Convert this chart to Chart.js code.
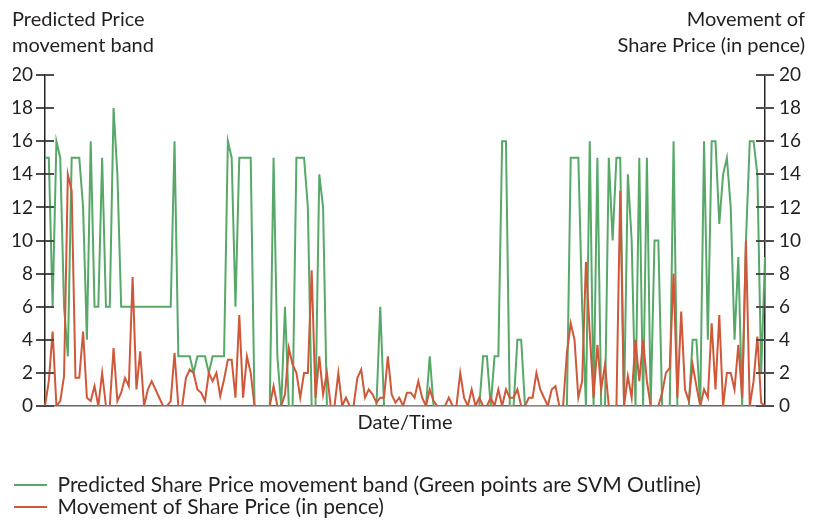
<!DOCTYPE html>
<html>
<head>
<meta charset="utf-8">
<script src="https://cdn.jsdelivr.net/npm/chart.js@4.4.1/dist/chart.umd.min.js"></script>
<style>
  html, body { margin: 0; padding: 0; background: #ffffff; }
  #wrap { width: 816px; height: 520px; }
</style>
</head>
<body>
<div id="wrap"><canvas id="c" width="816" height="520"></canvas></div>
<script>
// ---- data ----
const greenBand = [
  15,15,6,16,15,6,3,15,15,15,12,4,16,6,6,15,6,6,18,14,
  6,6,6,6,6,6,6,6,6,6,6,6,6,6,16,3,3,3,3,2,
  3,3,3,2,3,3,3,3,16,15,6,15,15,15,15,0,0,0,0,0,
  15,3,0,6,0,0,15,15,15,12,0,0,14,12,0,0,0,0,0,0,
  0,0,0,0,0,0,0,0,6,0,0,0,0,0,0,0,0,0,0,0,
  0,3,0,0,0,0,0,0,0,0,0,0,0,0,0,3,3,0,3,3,
  16,16,0,0,4,4,0,0,0,0,0,0,0,0,0,0,0,0,15,15,
  15,6,0,16,0,15,0,0,15,10,15,15,0,14,10,0,15,0,15,0,
  10,10,0,0,0,16,0,0,0,0,4,4,0,16,4,16,16,11,14,15,
  12,4,9,0,10,16,16,14,2,9
];
const sharePrice = [
  0,1.5,4.5,0,0.3,1.8,14,13,1.7,1.7,4.5,0.5,0.3,1.2,0,2,0,0,3.5,0.3,
  0.8,1.7,1.2,7.8,1,3.3,0,1,1.5,1,0.5,0,0,0.3,3.2,0,0,1.7,2.2,2,
  1,0.8,0.3,2,1.5,2,0.6,1.6,2.8,2.8,0.5,5.5,0.5,3,2,0,0,0,0,0,
  1.2,0,0,0.7,3.5,2.5,2,0.5,2,2,8.2,0.5,3,0.7,2,0,0,2,0,0.5,
  0,0,1.7,2.2,0.5,1,0.7,0.2,0.5,0.5,3,0.7,0.2,0.5,0,0.8,0.8,0.5,1.5,0.5,
  0,1,0.3,0,0,0,0.5,0,0,2,0.5,0,1,0,0.5,0,0,0.5,0,1,
  0,1,0.5,0.5,1,0,0,0.5,0.5,2,1,0.5,0,1,1.2,0,0,3.2,5,4,
  0.5,1.5,8.7,4.4,0.5,3.7,1,2.5,0,0,0,13,0,1.8,0.5,4,1.5,4,1.5,0,
  0,0,0.8,2,2.3,8,0.5,5.7,1,0.3,2.5,1.2,0,1,0.5,5,1,5.5,0,2,
  2,1,3.7,0.5,10,0,1.5,4.2,0.2,0
];
const categories = greenBand.map((_, i) => 'T' + (i + 1));
const yTicks = [0, 2, 4, 6, 8, 10, 12, 14, 16, 18, 20];
const seriesNames = [
  'Predicted Share Price movement band (Green points are SVM Outline)',
  'Movement of Share Price (in pence)'
];
const leftTitle = ['Predicted Price', 'movement band'];
const rightTitle = ['Movement of', 'Share Price (in pence)'];
const xTitle = 'Date/Time';

// ---- styling ----
const GREEN = '#58a86a';
const RED = '#d0583a';
const TEXT = '#231f20';
const TICK = '#4d4d4d';
const FONT = 'Lato';

const innerTicks = {
  id: 'innerTicks',
  afterDatasetsDraw(chart) {
    const ctx = chart.ctx;
    ['yL', 'yR'].forEach(id => {
      const s = chart.scales[id];
      ctx.save();
      ctx.strokeStyle = TICK;
      ctx.lineWidth = 2;
      s.ticks.forEach(t => {
        const y = Math.round(s.getPixelForValue(t.value));
        ctx.beginPath();
        if (id === 'yL') { ctx.moveTo(s.right, y); ctx.lineTo(s.right + 9, y); }
        else { ctx.moveTo(s.left, y); ctx.lineTo(s.left - 9, y); }
        ctx.stroke();
      });
      ctx.restore();
    });
  },
  afterDraw(chart) {
    const ctx = chart.ctx;
    ctx.save();
    ctx.fillStyle = TEXT;
    ctx.font = '20px ' + FONT;
    ctx.textBaseline = 'middle';
    ctx.textAlign = 'left';
    ctx.fillText(leftTitle[0], 12, 20);
    ctx.fillText(leftTitle[1], 12, 46);
    ctx.textAlign = 'right';
    ctx.fillText(rightTitle[0], 805, 20);
    ctx.fillText(rightTitle[1], 805, 46);
    ctx.restore();
  }
};

new Chart(document.getElementById('c'), {
  type: 'line',
  data: {
    labels: categories,
    datasets: [
      { label: seriesNames[0], data: greenBand, yAxisID: 'yL', borderColor: GREEN, backgroundColor: GREEN,
        borderWidth: 2, pointRadius: 0, tension: 0, order: 1 },
      { label: seriesNames[1], data: sharePrice, yAxisID: 'yR', borderColor: RED, backgroundColor: RED,
        borderWidth: 2, pointRadius: 0, tension: 0, order: 0 }
    ]
  },
  options: {
    responsive: false,
    devicePixelRatio: 1,
    animation: false,
    layout: { padding: { top: 75, left: 13, right: 0, bottom: 0 } },
    scales: {
      x: {
        type: 'category',
        offset: false,
        ticks: { display: false },
        grid: { display: false },
        border: { display: true, color: '#666666', width: 1.5 },
        title: { display: true, text: xTitle, color: TEXT, font: { family: FONT, size: 20 }, padding: { top: 0, bottom: 38.5 } },
        afterFit(s) { s.height = 67.5; }
      },
      yL: {
        position: 'left', min: 0, max: 20,
        afterBuildTicks(s) { s.ticks = yTicks.map(v => ({ value: v })); },
        ticks: { color: TEXT, font: { family: FONT, size: 19 }, padding: 3 },
        grid: { display: true, drawOnChartArea: false, drawTicks: true, tickLength: 9, color: TICK, lineWidth: 2 },
        border: { display: true, color: '#222222', width: 1.5 },
        afterFit(s) { s.width = 32; }
      },
      yR: {
        position: 'right', min: 0, max: 20,
        afterBuildTicks(s) { s.ticks = yTicks.map(v => ({ value: v })); },
        ticks: { color: TEXT, font: { family: FONT, size: 19 }, padding: 5 },
        grid: { display: true, drawOnChartArea: false, drawTicks: true, tickLength: 9, color: TICK, lineWidth: 2 },
        border: { display: true, color: '#222222', width: 1.5 },
        afterFit(s) { s.width = 51; }
      }
    },
    plugins: {
      tooltip: { enabled: false },
      legend: {
        display: true,
        position: 'bottom',
        align: 'start',
        maxHeight: 46.5,
        labels: {
          boxWidth: 33,
          boxHeight: 2,
          padding: 1,
          color: TEXT,
          font: { family: FONT, size: 21 },
          generateLabels(chart) {
            return chart.data.datasets.map((ds, i) => ({
              text: ds.label, fillStyle: ds.borderColor, strokeStyle: ds.borderColor,
              lineWidth: 0, hidden: false, datasetIndex: i, fontColor: TEXT
            }));
          }
        }
      }
    }
  },
  plugins: [innerTicks]
});
</script>
</body>
</html>
